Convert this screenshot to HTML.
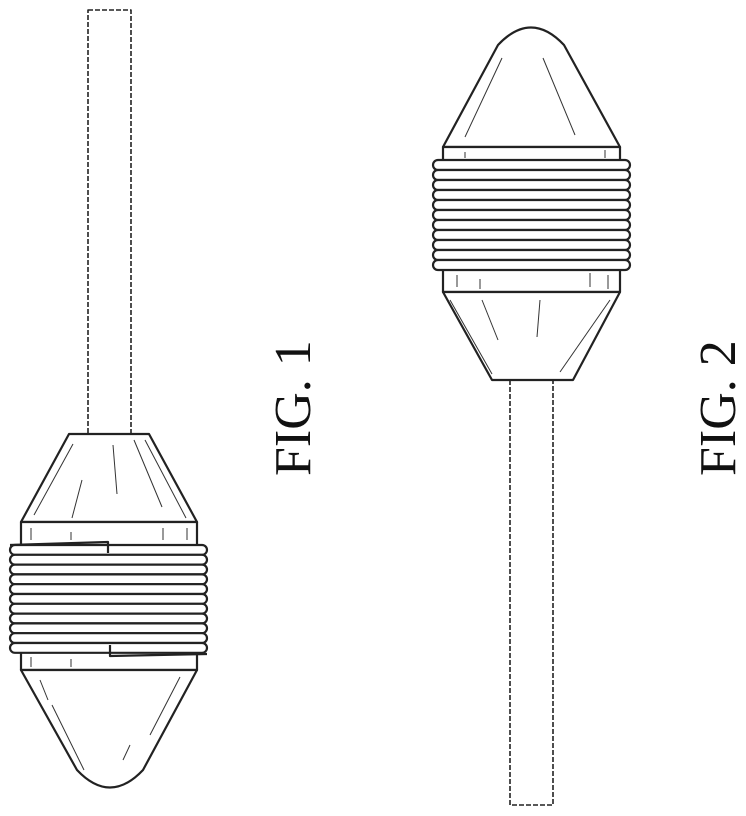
<!DOCTYPE html>
<html><head><meta charset="utf-8"><style>
html,body{margin:0;padding:0;background:#fff;}
svg{display:block;}
text{font-family:"Liberation Serif",serif;font-weight:normal;font-size:52px;fill:#111;}
</style></head><body>
<svg width="746" height="816" viewBox="0 0 746 816">
<g fill="#fff" stroke="#222" stroke-width="2.2" stroke-linejoin="round">
 <g>
  <rect x="88" y="10" width="43" height="424" stroke-dasharray="5,2" stroke-width="1.6"/>
  <polygon points="69,434 149,434 197,522 21,522"/>
  <rect x="21" y="522" width="176" height="148"/>
  <path d="M21,670 L197,670 L143,770 Q110,805 77,770 Z"/>
  <polyline points="10,545 108,542 108,553" fill="none"/>
  <polyline points="110,645 110,656 207,654" fill="none"/>
  <g>
   <rect x="10" y="545.0" width="197" height="9.8" rx="4.9"/>
   <rect x="10" y="554.8" width="197" height="9.8" rx="4.9"/>
   <rect x="10" y="564.6" width="197" height="9.8" rx="4.9"/>
   <rect x="10" y="574.4" width="197" height="9.8" rx="4.9"/>
   <rect x="10" y="584.2" width="197" height="9.8" rx="4.9"/>
   <rect x="10" y="594.0" width="197" height="9.8" rx="4.9"/>
   <rect x="10" y="603.8" width="197" height="9.8" rx="4.9"/>
   <rect x="10" y="613.6" width="197" height="9.8" rx="4.9"/>
   <rect x="10" y="623.4" width="197" height="9.8" rx="4.9"/>
   <rect x="10" y="633.2" width="197" height="9.8" rx="4.9"/>
   <rect x="10" y="643.0" width="197" height="9.8" rx="4.9"/>
  </g>
  <polyline points="108,544 108,553" fill="none"/>
  <polyline points="110,645 110,653" fill="none"/>
 </g>
 <g>
  <rect x="510" y="380" width="43" height="425" stroke-dasharray="5,2" stroke-width="1.6"/>
  <path d="M443,147 L498,45 Q531,10 564,45 L620,147 Z"/>
  <rect x="443" y="147" width="177" height="145"/>
  <polygon points="443,292 620,292 573,380 492,380"/>
  <g>
   <rect x="433" y="160" width="197" height="10" rx="5"/>
   <rect x="433" y="170" width="197" height="10" rx="5"/>
   <rect x="433" y="180" width="197" height="10" rx="5"/>
   <rect x="433" y="190" width="197" height="10" rx="5"/>
   <rect x="433" y="200" width="197" height="10" rx="5"/>
   <rect x="433" y="210" width="197" height="10" rx="5"/>
   <rect x="433" y="220" width="197" height="10" rx="5"/>
   <rect x="433" y="230" width="197" height="10" rx="5"/>
   <rect x="433" y="240" width="197" height="10" rx="5"/>
   <rect x="433" y="250" width="197" height="10" rx="5"/>
   <rect x="433" y="260" width="197" height="10" rx="5"/>
  </g>
 </g>
</g>
<g stroke="#333" stroke-width="1" fill="none">
 <line x1="73" y1="444" x2="34" y2="515"/><line x1="82" y1="480" x2="72" y2="518"/>
 <line x1="113" y1="445" x2="117" y2="494"/><line x1="134" y1="440" x2="162" y2="507"/>
 <line x1="145" y1="440" x2="186" y2="518"/>
 <line x1="31" y1="528" x2="31" y2="540"/><line x1="71" y1="532" x2="71" y2="540"/>
 <line x1="163" y1="528" x2="163" y2="540"/><line x1="187" y1="528" x2="187" y2="540"/>
 <line x1="31" y1="657" x2="31" y2="667"/><line x1="71" y1="659" x2="71" y2="667"/>
 <line x1="40" y1="680" x2="48" y2="700"/><line x1="52" y1="705" x2="84" y2="770"/>
 <line x1="180" y1="677" x2="150" y2="735"/><line x1="130" y1="745" x2="123" y2="760"/>
 <line x1="502" y1="58" x2="465" y2="137"/><line x1="543" y1="58" x2="575" y2="135"/>
 <line x1="465" y1="152" x2="465" y2="158"/><line x1="605" y1="150" x2="605" y2="158"/>
 <line x1="457" y1="275" x2="457" y2="287"/><line x1="480" y1="279" x2="480" y2="289"/>
 <line x1="590" y1="273" x2="590" y2="287"/><line x1="608" y1="275" x2="608" y2="289"/>
 <line x1="450" y1="300" x2="492" y2="374"/><line x1="482" y1="300" x2="498" y2="340"/>
 <line x1="540" y1="300" x2="537" y2="337"/><line x1="610" y1="300" x2="560" y2="372"/>
</g>
<text transform="translate(310,476) rotate(-90)">FIG. 1</text>
<text transform="translate(735,476) rotate(-90)">FIG. 2</text>
</svg>
</body></html>
